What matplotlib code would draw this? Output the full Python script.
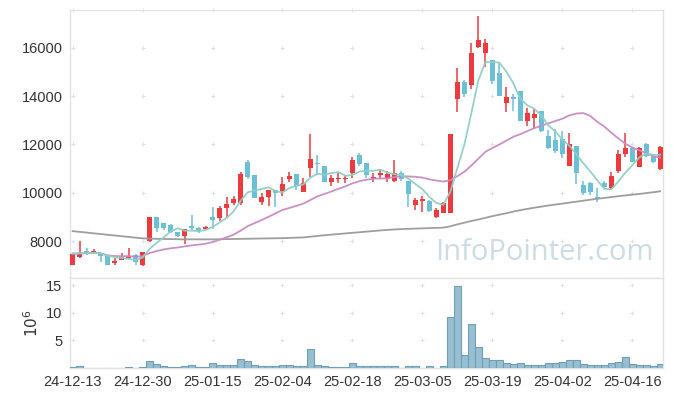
import matplotlib
matplotlib.use("Agg")
import matplotlib.pyplot as plt
import numpy as np
import pandas as pd

plt.rcParams['font.family'] = ['Liberation Sans', 'DejaVu Sans']

# ---- data ----
opens = [7020, 7340, 7590, 7500, 7460, 7380, 7100, 7210, 7300, 7420,
         7010, 8000, 8990, 8760, 8660, 8385, 8210, 8620, 8540, 8510,
         9000, 8960, 9380, 9590, 9590, 11270, 10730, 9630, 9820, 10110,
         10080, 10570, 10770, 10040, 11020, 11240, 11100, 10460, 10570, 10570,
         10800, 11560, 11230, 10550, 10730, 10570, 10480, 10830, 10500, 9490,
         9670, 9650, 8980, 9170, 9150, 13870, 14600, 14460, 16040, 15770,
         15490, 14950, 13725, 13980, 14210, 12980, 13100, 13380, 12350, 12180,
         12220, 11120, 11930, 10320, 10390, 9810, 10420, 10180, 10920, 11600,
         11860, 11080, 12000, 11520, 10980]
closes = [7480, 7500, 7500, 7590, 7380, 7010, 7190, 7340, 7380, 7150,
          7540, 8990, 8540, 8530, 8370, 8210, 8500, 8550, 8420, 8590,
          8870, 9380, 9530, 9740, 10770, 10650, 9780, 9820, 10110, 10000,
          10360, 10690, 10280, 10400, 11390, 11190, 10460, 10620, 10620, 10620,
          11350, 11190, 10730, 10660, 10830, 10775, 10830, 10570, 9930, 9700,
          9725, 9230, 9280, 9560, 12430, 14600, 14090, 15800, 16320, 16210,
          14620, 14000, 13950, 13900, 12980, 13290, 13260, 12570, 11860, 11730,
          11590, 12000, 10800, 10000, 10040, 9750, 10220, 10690, 11590, 11860,
          11290, 11860, 11530, 11290, 11900]
highs = [7520, 8000, 7710, 7650, 7500, 7380, 7300, 7500, 7710, 7460,
         7550, 9000, 8990, 8760, 8700, 8385, 8500, 9080, 8580, 8620,
         9400, 9450, 9830, 9880, 10870, 11350, 10730, 10000, 10110, 10110,
         10650, 10860, 10780, 10600, 12430, 11560, 11100, 10750, 10800, 10750,
         11490, 11650, 11230, 10800, 11000, 10900, 11350, 10900, 10500, 9800,
         9860, 9700, 9350, 9600, 12430, 15160, 14650, 16190, 17310, 16360,
         15490, 15370, 14380, 14100, 14210, 13500, 13450, 13400, 12600, 12650,
         12550, 12480, 11930, 10500, 10450, 10190, 10500, 10860, 11760, 12460,
         11900, 11900, 12050, 11600, 11950]
lows = [7000, 7300, 7420, 7450, 7130, 7000, 7000, 7200, 7270, 7000,
        6950, 7950, 8370, 8450, 8330, 8150, 7880, 8450, 8340, 8450,
        8500, 8830, 8950, 9500, 9500, 10560, 9780, 9500, 9450, 9420,
        9870, 10450, 10100, 10040, 10650, 10730, 10460, 10270, 10400, 10400,
        10600, 11100, 10600, 10450, 10600, 10450, 10450, 10500, 9420, 9280,
        9210, 9200, 8950, 9150, 9150, 13350, 13950, 14290, 16000, 15220,
        14500, 14000, 13340, 13400, 12980, 12780, 12700, 12500, 11800, 11650,
        11450, 11120, 10360, 9900, 9900, 9630, 10200, 10100, 10800, 11500,
        11290, 11050, 11500, 11250, 10950]
volumes = [0.15, 0.3, 0, 0, 0, 0, 0, 0, 0.12, 0,
           0.12, 1.2, 0.65, 0.28, 0.14, 0.14, 0.28, 0.55, 0.14, 0.14,
           0.85, 0.55, 0.5, 0.5, 1.6, 1.2, 0.55, 0.28, 0.28, 0.28,
           0.5, 0.5, 0.28, 0.28, 3.4, 0.55, 0.28, 0.14, 0.14, 0.14,
           0.85, 0.35, 0.3, 0.3, 0.3, 0.3, 0.3, 0, 0.3, 0.3,
           0, 0.3, 0, 0.3, 9.2, 14.9, 2.25, 8.0, 3.8, 1.75,
           1.4, 1.4, 0.85, 0.65, 0.85, 0.5, 0.5, 0.5, 0.85, 0.85,
           1.05, 1.4, 1.4, 0.65, 0.5, 0.5, 0.5, 0.85, 1.05, 1.95,
           0.65, 0.5, 0.5, 0.3, 0.65]
ma60 = [8410, 8380, 8350, 8320, 8290, 8260, 8230, 8200, 8170, 8140,
        8110, 8100, 8090, 8085, 8080, 8075, 8070, 8070, 8070, 8070,
        8070, 8075, 8080, 8085, 8090, 8095, 8100, 8105, 8110, 8115,
        8120, 8130, 8140, 8150, 8180, 8210, 8240, 8265, 8290, 8315,
        8340, 8365, 8390, 8415, 8440, 8460, 8480, 8495, 8505, 8515,
        8525, 8535, 8545, 8555, 8610, 8690, 8760, 8830, 8890, 8960,
        9030, 9090, 9150, 9220, 9280, 9330, 9380, 9425, 9470, 9510,
        9550, 9590, 9630, 9670, 9710, 9750, 9785, 9820, 9855, 9890,
        9920, 9950, 9985, 10020, 10060]
tick_labels = ['24-12-13', '24-12-30', '25-01-15', '25-02-04', '25-02-18',
               '25-03-05', '25-03-19', '25-04-02', '25-04-16']
price_ticks = [8000, 10000, 12000, 14000, 16000]
vol_ticks = [5, 10, 15]

# ---- derived ----
df = pd.DataFrame({'open': opens, 'close': closes, 'high': highs, 'low': lows, 'vol': volumes})
df['ma5'] = df['close'].rolling(5, min_periods=1).mean()
df['ma20'] = df['close'].rolling(20, min_periods=1).mean()
x = np.arange(len(df))
tick_pos = x[::10][:len(tick_labels)]

RED = '#ec3a3e'
BLUE = '#6cc0d6'
TXT = '#333333'
FRAME = '#e3e3e3'
CROSS = '#e0e0e0'

fig = plt.figure(figsize=(6.73, 3.96), dpi=100)
ax = fig.add_axes([0.1033, 0.298, 0.8818, 0.6767])
axv = fig.add_axes([0.1033, 0.0712, 0.8818, 0.2268], sharex=ax)

# watermark
ax.text(0.985, 0.04, 'InfoPointer.com', transform=ax.transAxes, ha='right', va='bottom',
        fontsize=21, color='#cbdce5', family=['Open Sans', 'DejaVu Sans'], zorder=0)

up = df['close'] >= df['open']
colors = np.where(up, RED, BLUE)
body_bot = np.minimum(df['open'], df['close'])
body_h = np.maximum((df['close'] - df['open']).abs(), 45)
ax.vlines(x, df['low'], df['high'], colors=colors, linewidth=1.1, zorder=2)
ax.bar(x, body_h, bottom=body_bot, width=0.72, color=colors, linewidth=0, zorder=3)

ax.plot(x, ma60, color='#999999', linewidth=1.3, alpha=0.95, zorder=4)
ax.plot(x, df['ma20'], color='#c98bc2', linewidth=1.3, alpha=0.95, zorder=4)
ax.plot(x, df['ma5'], color='#8fcfc6', linewidth=1.3, alpha=0.95, zorder=4)

axv.bar(x, df['vol'], width=1.0, color='#98bfd1', edgecolor='#6f9fb5', linewidth=0.8, zorder=3)

ax.set_xlim(-0.45, 84.4)
ax.set_ylim(6470, 17565)
axv.set_ylim(0, 16.3)

ax.set_yticks(price_ticks)
ax.set_yticklabels([str(t) for t in price_ticks])
axv.set_yticks(vol_ticks)
axv.set_yticklabels([str(t) for t in vol_ticks])
axv.set_xticks(tick_pos)
axv.set_xticklabels(tick_labels)
ax.tick_params(axis='x', which='both', length=0, labelbottom=False)

for a in (ax, axv):
    a.tick_params(axis='both', length=0, labelsize=10.5, colors=TXT, pad=5)
    for s in a.spines.values():
        s.set_color(FRAME)
        s.set_linewidth(1.0)
    a.set_facecolor('white')

# '+' grid marks at tick intersections
gx, gy = np.meshgrid(tick_pos, price_ticks + [ax.get_ylim()[1]])
ax.scatter(gx.ravel(), gy.ravel(), marker='+', s=10, color=CROSS, linewidths=0.7, zorder=1, clip_on=False)
gx, gy = np.meshgrid(tick_pos, vol_ticks)
axv.scatter(gx.ravel(), gy.ravel(), marker='+', s=10, color=CROSS, linewidths=0.7, zorder=1)

axv.set_ylabel(r'$10^6$', fontsize=11, color=TXT, labelpad=4)

fig.savefig('out.png', dpi=100, facecolor='white')
